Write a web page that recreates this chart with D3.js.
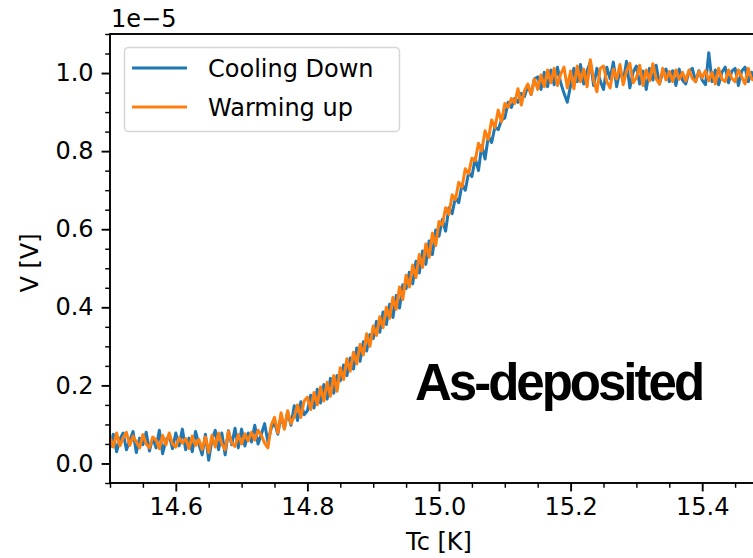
<!DOCTYPE html>
<html>
<head>
<meta charset="utf-8">
<script src="https://cdn.jsdelivr.net/npm/d3@7"></script>
<style>
  html, body { margin: 0; padding: 0; background: #fff; }
  svg { display: block; }
</style>
</head>
<body>
<svg id="chart" width="753" height="558"></svg>
<script>
// ---------------- DATA ----------------
const temperature = [
14.500,14.505,14.510,14.515,14.520,14.525,14.530,14.535,14.540,14.545,
14.550,14.555,14.560,14.565,14.570,14.575,14.580,14.585,14.590,14.595,
14.600,14.605,14.610,14.615,14.620,14.625,14.630,14.635,14.640,14.645,
14.650,14.655,14.660,14.665,14.670,14.675,14.680,14.685,14.690,14.695,
14.700,14.705,14.710,14.715,14.720,14.725,14.730,14.735,14.740,14.745,
14.750,14.755,14.760,14.765,14.770,14.775,14.780,14.785,14.790,14.795,
14.800,14.805,14.810,14.815,14.820,14.825,14.830,14.835,14.840,14.845,
14.850,14.855,14.860,14.865,14.870,14.875,14.880,14.885,14.890,14.895,
14.900,14.905,14.910,14.915,14.920,14.925,14.930,14.935,14.940,14.945,
14.950,14.955,14.960,14.965,14.970,14.975,14.980,14.985,14.990,14.995,
15.000,15.005,15.010,15.015,15.020,15.025,15.030,15.035,15.040,15.045,
15.050,15.055,15.060,15.065,15.070,15.075,15.080,15.085,15.090,15.095,
15.100,15.105,15.110,15.115,15.120,15.125,15.130,15.135,15.140,15.145,
15.150,15.155,15.160,15.165,15.170,15.175,15.180,15.185,15.190,15.195,
15.200,15.205,15.210,15.215,15.220,15.225,15.230,15.235,15.240,15.245,
15.250,15.255,15.260,15.265,15.270,15.275,15.280,15.285,15.290,15.295,
15.300,15.305,15.310,15.315,15.320,15.325,15.330,15.335,15.340,15.345,
15.350,15.355,15.360,15.365,15.370,15.375,15.380,15.385,15.390,15.395,
15.400,15.405,15.410,15.415,15.420,15.425,15.430,15.435,15.440,15.445,
15.450,15.455,15.460,15.465,15.470,15.475,15.480,15.485,15.490,15.495,
15.500
];

// Voltage in units of 1e-5 V
const coolingDown = [
0.040,0.075,0.030,0.062,0.078,0.035,0.058,0.082,0.028,0.065,
0.048,0.080,0.032,0.066,0.040,0.085,0.025,0.060,0.072,0.038,
0.078,0.045,0.088,0.035,0.065,0.030,0.082,0.050,0.022,0.075,
0.008,0.062,0.085,0.035,0.078,0.022,0.084,0.048,0.090,0.040,
0.088,0.045,0.078,0.055,0.098,0.050,0.075,0.102,0.055,0.090,
0.105,0.075,0.122,0.090,0.132,0.098,0.148,0.110,0.158,0.125,
0.135,0.175,0.142,0.190,0.155,0.202,0.165,0.218,0.180,0.225,
0.212,0.252,0.225,0.270,0.242,0.296,0.262,0.312,0.288,0.330,
0.320,0.364,0.336,0.388,0.356,0.408,0.374,0.430,0.398,0.458,
0.448,0.490,0.460,0.518,0.488,0.544,0.510,0.570,0.535,0.598,
0.582,0.625,0.595,0.655,0.640,0.682,0.668,0.715,0.700,0.745,
0.735,0.782,0.750,0.815,0.780,0.838,0.822,0.862,0.855,0.880,
0.885,0.925,0.912,0.935,0.925,0.948,0.940,0.968,0.945,0.985,
0.990,0.958,1.002,0.965,1.008,0.970,1.015,0.975,0.948,0.925,
0.968,1.012,0.978,1.022,0.972,1.005,1.028,0.968,1.012,0.980,
0.958,1.015,0.985,1.028,0.965,1.010,0.978,1.030,0.962,1.002,
1.018,0.972,1.005,0.958,1.012,0.982,1.020,0.972,1.002,1.010,
0.978,1.006,0.968,1.010,0.982,0.972,1.004,1.012,0.978,1.006,
0.982,0.970,1.052,0.978,1.008,0.970,1.002,1.015,0.975,1.005,
1.012,0.968,1.005,1.015,0.978,1.002,0.982,1.006,0.975,1.010,
0.985
];

const warmingUp = [
0.068,0.042,0.078,0.045,0.066,0.080,0.046,0.070,0.055,0.040,
0.074,0.050,0.040,0.068,0.060,0.038,0.072,0.048,0.078,0.050,
0.042,0.066,0.052,0.064,0.038,0.070,0.046,0.062,0.036,0.068,
0.028,0.072,0.042,0.078,0.050,0.035,0.082,0.052,0.044,0.074,
0.050,0.076,0.058,0.080,0.060,0.085,0.072,0.052,0.040,0.098,
0.118,0.078,0.130,0.088,0.135,0.102,0.120,0.150,0.118,0.160,
0.170,0.138,0.182,0.150,0.196,0.160,0.208,0.172,0.225,0.185,
0.245,0.215,0.268,0.236,0.285,0.255,0.305,0.278,0.332,0.300,
0.352,0.328,0.376,0.348,0.400,0.372,0.425,0.395,0.452,0.420,
0.482,0.452,0.508,0.476,0.535,0.502,0.562,0.528,0.590,0.558,
0.620,0.610,0.655,0.638,0.688,0.676,0.720,0.708,0.755,0.742,
0.782,0.775,0.820,0.800,0.852,0.830,0.880,0.860,0.905,0.875,
0.922,0.912,0.935,0.922,0.960,0.918,0.955,0.972,0.945,0.985,
0.958,0.995,0.965,1.008,0.975,1.012,0.968,0.998,1.015,0.962,
1.005,0.960,1.018,0.978,1.010,0.965,1.034,0.982,0.952,1.012,
1.018,0.978,0.962,1.010,0.985,1.022,0.970,1.005,1.025,0.975,
0.988,1.020,0.968,1.008,0.980,1.024,0.985,0.972,1.012,0.982,
1.004,0.978,1.008,0.984,1.002,0.980,1.008,0.986,0.978,1.004,
0.988,1.006,0.980,1.002,0.972,1.012,0.984,0.978,1.008,0.986,
0.978,1.008,0.990,0.972,1.012,0.985,0.980,1.006,0.978,1.002,
0.988
];

const seriesNames = ["Cooling Down", "Warming up"];
const seriesColors = ["#1f77b4", "#ff7f0e"];

const xDomain = [14.5, 15.5];
const yDomain = [-0.05, 1.1];
const xMajorTicks = [14.6, 14.8, 15.0, 15.2, 15.4];
const xMinorTicks = [14.5, 14.55, 14.65, 14.7, 14.75, 14.85, 14.9, 14.95, 15.05, 15.1, 15.15, 15.25, 15.3, 15.35, 15.45, 15.5];
const yMajorTicks = [0.0, 0.2, 0.4, 0.6, 0.8, 1.0];
const yMinorTicks = [-0.05, 0.05, 0.1, 0.15, 0.25, 0.3, 0.35, 0.45, 0.5, 0.55, 0.65, 0.7, 0.75, 0.85, 0.9, 0.95, 1.05, 1.1];

const xLabel = "Tc [K]";
const yLabel = "V [V]";
const offsetLabel = "1e\u22125";
const annotation = "As-deposited";

// ---------------- LAYOUT ----------------
const svg = d3.select("#chart");
const pLeft = 110, pRight = 768, pTop = 34, pBottom = 483;
const font = "'DejaVu Sans', sans-serif";
const fs = 24;

const x = d3.scaleLinear().domain(xDomain).range([pLeft, pRight]);
const y = d3.scaleLinear().domain(yDomain).range([pBottom, pTop]);

svg.append("rect").attr("width", 753).attr("height", 558).attr("fill", "#fff");

svg.append("defs").append("clipPath").attr("id", "clip")
  .append("rect").attr("x", pLeft).attr("y", pTop).attr("width", pRight - pLeft).attr("height", pBottom - pTop);

// lines
const data = [coolingDown, warmingUp];
const line = d3.line().x((d, i) => x(temperature[i])).y(d => y(d));
const plot = svg.append("g").attr("clip-path", "url(#clip)");
data.forEach((vals, k) => {
  plot.append("path")
    .datum(vals)
    .attr("d", line)
    .attr("fill", "none")
    .attr("stroke", seriesColors[k])
    .attr("stroke-width", 3)
    .attr("stroke-linejoin", "round")
    .attr("stroke-linecap", "butt");
});

// axes
function styleAxis(g, w) {
  g.select(".domain").remove();
  g.selectAll(".tick line").attr("stroke", "#000").attr("stroke-width", w);
  g.selectAll(".tick text").attr("fill", "#000").style("font-family", font).style("font-size", fs + "px");
}

const gxMinor = svg.append("g").attr("transform", `translate(0,${pBottom})`)
  .call(d3.axisBottom(x).tickValues(xMinorTicks).tickSize(4.8).tickFormat(""));
styleAxis(gxMinor, 1.45);
const gx = svg.append("g").attr("transform", `translate(0,${pBottom})`)
  .call(d3.axisBottom(x).tickValues(xMajorTicks).tickSize(8.4).tickPadding(7).tickFormat(d3.format(".1f")));
styleAxis(gx, 1.9);

const gyMinor = svg.append("g").attr("transform", `translate(${pLeft},0)`)
  .call(d3.axisLeft(y).tickValues(yMinorTicks).tickSize(4.8).tickFormat(""));
styleAxis(gyMinor, 1.45);
const gy = svg.append("g").attr("transform", `translate(${pLeft},0)`)
  .call(d3.axisLeft(y).tickValues(yMajorTicks).tickSize(8.4).tickPadding(8).tickFormat(d3.format(".1f")));
styleAxis(gy, 1.9);

// spines
svg.append("rect").attr("x", pLeft).attr("y", pTop).attr("width", pRight - pLeft).attr("height", pBottom - pTop)
  .attr("fill", "none").attr("stroke", "#000").attr("stroke-width", 1.9);

// labels
svg.append("text").attr("x", (pLeft + pRight) / 2).attr("y", 550)
  .attr("text-anchor", "middle").style("font-family", font).style("font-size", fs + "px").text(xLabel);
svg.append("text").attr("transform", `translate(38,263) rotate(-90)`)
  .attr("text-anchor", "middle").style("font-family", font).style("font-size", fs + "px").text(yLabel);
svg.append("text").attr("x", pLeft + 1).attr("y", 27)
  .style("font-family", font).style("font-size", fs + "px").text(offsetLabel);

// legend
const lg = svg.append("g");
lg.append("rect").attr("x", 124.5).attr("y", 47.5).attr("width", 275).attr("height", 84).attr("rx", 4)
  .attr("fill", "#fff").attr("fill-opacity", 0.8).attr("stroke", "#d6d6d6").attr("stroke-width", 1.5);
seriesNames.forEach((name, k) => {
  const yy = 68 + k * 39;
  lg.append("line").attr("x1", 132).attr("x2", 187).attr("y1", yy).attr("y2", yy)
    .attr("stroke", seriesColors[k]).attr("stroke-width", 3);
  lg.append("text").attr("x", 208).attr("y", yy + 8.5)
    .style("font-family", font).style("font-size", fs + "px").text(name);
});

// annotation
svg.append("text").attr("x", 415).attr("y", 400)
  .style("font-family", "'Liberation Sans', Arial, sans-serif").style("font-weight", "bold")
  .style("font-size", "51px").style("letter-spacing", "-3px").attr("fill", "#000").text(annotation);
</script>
</body>
</html>
